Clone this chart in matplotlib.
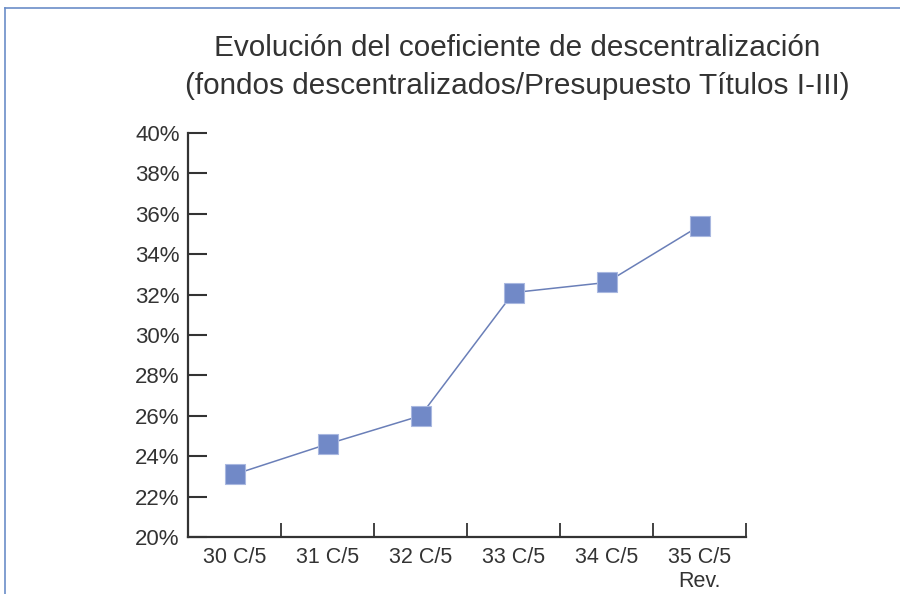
import matplotlib
matplotlib.use("Agg")
import matplotlib.pyplot as plt
from matplotlib.lines import Line2D
from matplotlib.ticker import FuncFormatter

categories = ["30 C/5", "31 C/5", "32 C/5", "33 C/5", "34 C/5", "35 C/5\nRev."]
values = [23.1, 24.6, 26.0, 32.1, 32.6, 35.4]
yticks = [20, 22, 24, 26, 28, 30, 32, 34, 36, 38, 40]

plt.rcParams['font.family'] = ['Liberation Sans', 'DejaVu Sans']
txt = '#333333'

fig = plt.figure(figsize=(9, 5.94), dpi=100)
ax = fig.add_axes([188/900, 1-537/594, (746-188)/900, (537-133)/594])

x = list(range(len(categories)))
ax.plot(x, values, color='#6a7fb8', lw=1.1, marker='s', markersize=14,
        markerfacecolor='#7189c7', markeredgecolor='#a9b8e0', markeredgewidth=0.8, zorder=3)

ax.set_xlim(-0.5, len(categories) - 0.5)
ax.set_ylim(20, 40)
ax.set_yticks(yticks)
ax.yaxis.set_major_formatter(FuncFormatter(lambda v, p: f"{v:.0f}%"))
ax.set_xticks([i + 0.5 for i in range(len(categories))])
ax.set_xticklabels([])
ax.set_xticks(x, minor=True)
ax.set_xticklabels(categories, minor=True)
ax.tick_params(axis='x', which='major', direction='in', length=10, width=1.3, color='#333333')
ax.tick_params(axis='x', which='minor', length=0, pad=7, labelsize=15.5, labelcolor=txt)
ax.tick_params(axis='y', direction='in', length=14, width=1.5, color='#333333', pad=6,
               labelsize=16, labelcolor=txt)

for s in ['top', 'right']:
    ax.spines[s].set_visible(False)
for s in ['left', 'bottom']:
    ax.spines[s].set_linewidth(1.6)
    ax.spines[s].set_color('#333333')

fig.text(0.575, 1-48/594, "Evolución del coeficiente de descentralización",
         ha='center', va='center', fontsize=21.4, color=txt)
fig.text(0.575, 1-86/594, "(fondos descentralizados/Presupuesto Títulos I-III)",
         ha='center', va='center', fontsize=21.4, color=txt)

frame = '#6b8ec8'
fig.add_artist(Line2D([5/900, 1], [1-8/594, 1-8/594], transform=fig.transFigure, color=frame, lw=1.2))
fig.add_artist(Line2D([5/900, 5/900], [0, 1-8/594], transform=fig.transFigure, color=frame, lw=1.2))

fig.savefig("out.png", dpi=100)
